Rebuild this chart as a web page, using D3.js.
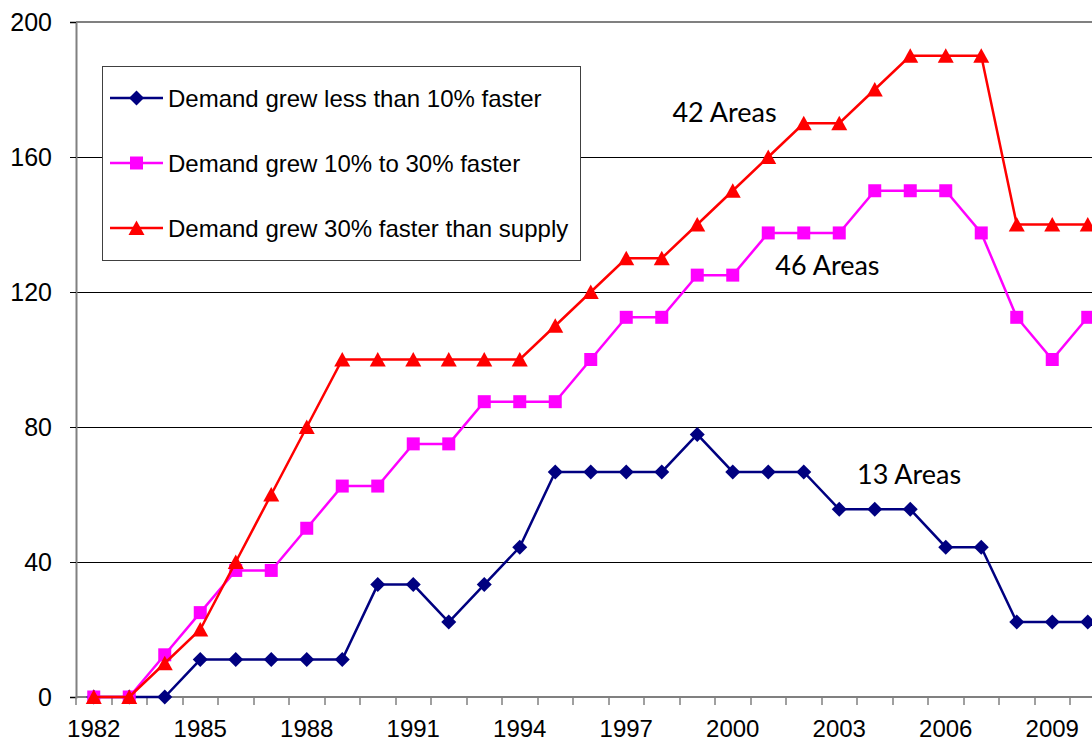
<!DOCTYPE html>
<html>
<head>
<meta charset="utf-8">
<script src="https://cdn.jsdelivr.net/npm/d3@7"></script>
<style>
  body { margin: 0; background: #fff; }
  svg { display: block; }
</style>
</head>
<body>
<script>
// data
const years = d3.range(1982, 2011)
const yearTicks = [1982, 1985, 1988, 1991, 1994, 1997, 2000, 2003, 2006, 2009]
const yTicks = [0, 40, 80, 120, 160, 200]

const lessThan10 = [0, 0, 0, 11.1, 11.1, 11.1, 11.1, 11.1, 33.3, 33.3, 22.2, 33.3, 44.4, 66.7, 66.7,
  66.7, 66.7, 77.8, 66.7, 66.7, 66.7, 55.6, 55.6, 55.6, 44.4, 44.4, 22.2, 22.2, 22.2]
const from10to30 = [0, 0, 12.5, 25, 37.5, 37.5, 50, 62.5, 62.5, 75, 75, 87.5, 87.5, 87.5, 100,
  112.5, 112.5, 125, 125, 137.5, 137.5, 137.5, 150, 150, 150, 137.5, 112.5, 100, 112.5]
const over30 = [0, 0, 10, 20, 40, 60, 80, 100, 100, 100, 100, 100, 100, 110, 120,
  130, 130, 140, 150, 160, 170, 170, 180, 190, 190, 190, 140, 140, 140]

const seriesNames = ["Demand grew less than 10% faster", "Demand grew 10% to 30% faster", "Demand grew 30% faster than supply"]
const seriesColors = ["#000080", "#ff00ff", "#ff0000"]
const seriesValues = [lessThan10, from10to30, over30]

// annotation text, anchored at left edge (year position) and baseline (value)
const notes = [
  {text: "42 Areas", year: 1998.8, value: 170.5},
  {text: "46 Areas", year: 2001.7, value: 125},
  {text: "13 Areas", year: 2004.0, value: 63}
]

const width = 1092, height = 740
const margin = {top: 22, left: 76, bottom: 43}
const bandW = 35.5

const svg = d3.select("body").append("svg")
  .attr("width", width)
  .attr("height", height)

const x = d3.scaleBand()
  .domain(years)
  .range([margin.left, margin.left + bandW * years.length])

const y = d3.scaleLinear()
  .domain([0, 200])
  .range([height - margin.bottom, margin.top])

const xc = d => x(d) + x.bandwidth() / 2
const right = margin.left + bandW * years.length
const yr = v => margin.left + (v - 1982) * bandW

// marker shapes: diamond, square, triangle
const marker = [
  d3.symbol().type({draw(ctx) { const r = 7.5; ctx.moveTo(0, -r); ctx.lineTo(r, 0); ctx.lineTo(0, r); ctx.lineTo(-r, 0); ctx.closePath() }}),
  d3.symbol().type({draw(ctx) { const r = 6.5; ctx.rect(-r, -r, 2 * r, 2 * r) }}),
  d3.symbol().type({draw(ctx) { ctx.moveTo(0, -7.5); ctx.lineTo(8, 7); ctx.lineTo(-8, 7); ctx.closePath() }})
]

// gridlines
svg.append("g")
  .attr("shape-rendering", "crispEdges")
  .selectAll("line")
  .data(yTicks.slice(1, -1))
  .join("line")
    .attr("x1", margin.left).attr("x2", right)
    .attr("y1", d => Math.round(y(d)) + 0.5).attr("y2", d => Math.round(y(d)) + 0.5)
    .attr("stroke", "#000").attr("stroke-width", 1)

// plot border top
svg.append("line")
  .attr("x1", margin.left).attr("x2", right)
  .attr("y1", y(200)).attr("y2", y(200))
  .attr("stroke", "#808080").attr("stroke-width", 2)

// y axis
const yAxis = svg.append("g")
  .attr("transform", `translate(${margin.left},0)`)
  .call(d3.axisLeft(y).tickValues(yTicks).tickSize(6).tickPadding(18))
yAxis.select(".domain").attr("stroke", "#808080").attr("stroke-width", 2)
yAxis.selectAll(".tick line").attr("stroke", "#000")
yAxis.selectAll("text")
  .style("font-family", "'Liberation Sans', Arial, sans-serif")
  .style("font-size", "25px").attr("fill", "#000")

// x axis
const xAxis = svg.append("g")
  .attr("transform", `translate(0,${y(0)})`)
xAxis.append("line")
  .attr("x1", margin.left).attr("x2", right)
  .attr("stroke", "#808080").attr("stroke-width", 2)
xAxis.selectAll(".xt")
  .data(years.concat([2011]))
  .join("line")
    .attr("class", "xt")
    .attr("x1", d => Math.round(yr(d)))
    .attr("x2", d => Math.round(yr(d)))
    .attr("y1", 0).attr("y2", 8)
    .attr("stroke", "#808080").attr("stroke-width", 1.5)
xAxis.selectAll("text")
  .data(yearTicks)
  .join("text")
    .attr("x", d => xc(d))
    .attr("y", 40)
    .attr("text-anchor", "middle")
    .style("font-family", "'Liberation Sans', Arial, sans-serif")
    .style("font-size", "24px")
    .text(d => d)

// series
const line = d3.line().x((d, i) => xc(years[i])).y(d => y(d))

seriesValues.forEach((vals, s) => {
  const g = svg.append("g")
  g.append("path")
    .datum(vals)
    .attr("fill", "none")
    .attr("stroke", seriesColors[s])
    .attr("stroke-width", 2.5)
    .attr("d", line)
  g.selectAll("path.m")
    .data(vals)
    .join("path")
      .attr("class", "m")
      .attr("transform", (d, i) => `translate(${xc(years[i])},${y(d)})`)
      .attr("d", marker[s])
      .attr("fill", seriesColors[s])
})

// annotations
svg.append("g")
  .selectAll("text")
  .data(notes)
  .join("text")
    .attr("x", d => yr(d.year))
    .attr("y", d => y(d.value))
    .style("font-family", "Lato, 'Open Sans', sans-serif")
    .style("font-size", "27px")
    .text(d => d.text)

// legend
const legend = svg.append("g")
legend.append("rect")
  .attr("x", 102.5).attr("y", 66.5)
  .attr("width", 478).attr("height", 194)
  .attr("fill", "#fff").attr("stroke", "#404040").attr("stroke-width", 1)

seriesNames.forEach((name, s) => {
  const ly = 98 + s * 65
  legend.append("line")
    .attr("x1", 110).attr("x2", 163)
    .attr("y1", ly).attr("y2", ly)
    .attr("stroke", seriesColors[s]).attr("stroke-width", 2.5)
  legend.append("path")
    .attr("transform", `translate(136.5,${ly})`)
    .attr("d", marker[s])
    .attr("fill", seriesColors[s])
  legend.append("text")
    .attr("x", 168).attr("y", ly)
    .attr("dy", "0.36em")
    .style("font-family", "'Liberation Sans', Arial, sans-serif")
    .style("font-size", "24px")
    .text(name)
})
</script>
</body>
</html>
